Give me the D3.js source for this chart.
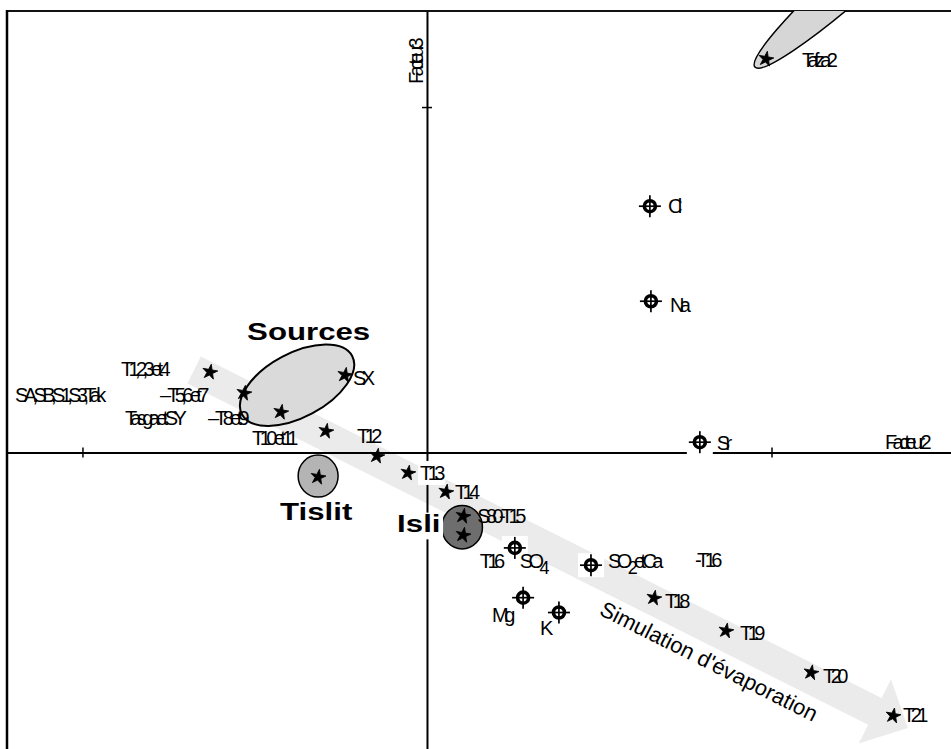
<!DOCTYPE html>
<html>
<head>
<meta charset="utf-8">
<script src="https://cdn.jsdelivr.net/npm/d3@7/dist/d3.min.js"></script>
<style>
  body { margin: 0; background: #fff; }
  svg { display: block; }
  text { font-family: "Liberation Sans", Arial, sans-serif; }
  .lbl { font-size: 20px; letter-spacing: -4.6px; }
  .big { font-size: 24px; font-weight: bold; }
</style>
</head>
<body>
<div id="chart"></div>
<script>
'use strict'

////////////////////////////////////
/////////////// data ///////////////
////////////////////////////////////

// echantillons : coordonnees sur facteur 2 (x) et facteur 3 (y)
const sampleNames = ['T1,2,3 et 4', 'T5,6 et 7', 'T8 et 9', 'SX', 'T10 et 11', 'T12', 'Tislit', 'T13', 'T14', 'S80', 'T15', 'T18', 'T19', 'T20', 'T21', 'Tafza2']
const sampleF2 = [-0.630, -0.531, -0.424, -0.238, -0.293, -0.145, -0.316, -0.055, 0.055, 0.105, 0.105, 0.659, 0.868, 1.115, 1.353, 0.984]
const sampleF3 = [0.233, 0.172, 0.117, 0.224, 0.062, -0.010, -0.071, -0.059, -0.114, -0.184, -0.239, -0.421, -0.516, -0.637, -0.762, 1.139]

// variables chimiques
const varNames = ['Cl', 'Na', 'Sr', 'SO4', 'SO2 et Ca', 'Mg', 'K']
const varF2 = [0.647, 0.650, 0.792, 0.255, 0.476, 0.279, 0.383]
const varF3 = [0.713, 0.438, 0.030, -0.276, -0.326, -0.420, -0.463]

// graduations des axes
const ticksF2 = [-1, 1]
const ticksF3 = [1]
const f2Domain = [-1.219, 1.521]
const f3Domain = [-0.858, 1.278]

// fleche "simulation d'evaporation" (queue -> pointe)
const arrowF2 = [-0.676, 1.396]
const arrowF3 = [0.239, -0.797]

////////////////////////////////////
/////////////// layout /////////////
////////////////////////////////////

// zones (centre en unites des facteurs)
const zones = [
    { name: 'Sources', f2: -0.377, f3: 0.195, rx: 0.181, ry: 0.093, rot: -28, fill: '#dadada', sw: 2, dx: -50, dy: -45 },
    { name: 'Tislit', f2: -0.316, f3: -0.068, rx: 0.058, ry: 0.061, rot: 0, fill: '#b4b4b4', sw: 1.5, dx: -38, dy: 44 },
    { name: 'Isli', f2: 0.102, f3: -0.216, rx: 0.059, ry: 0.063, rot: 0, fill: '#6e6e6e', sw: 1.5, dx: -65, dy: 5, bg: true },
    { name: '', f2: 1.255, f3: 1.385, rx: 0.406, ry: 0.055, rot: -41.7, fill: '#d6d6d6', sw: 1.5 }
]

// etiquettes : decalage en px par rapport au point
const labels = [
    { text: 'T1,2,3 et 4', of: 'T1,2,3 et 4', dx: -89, dy: 4 },
    { text: 'SA,SB,S1,S3,Tak', of: 'T5,6 et 7', dx: -229, dy: 9 },
    { text: '– T5,6 et 7', of: 'T5,6 et 7', dx: -84, dy: 9 },
    { text: 'Tasga et SY', of: 'T8 et 9', dx: -156, dy: 13 },
    { text: '– T8 et 9', of: 'T8 et 9', dx: -73, dy: 13 },
    { text: 'SX', of: 'SX', dx: 8, dy: 10 },
    { text: 'T10 et 11', of: 'T10 et 11', dx: -74, dy: 14 },
    { text: 'T12', of: 'T12', dx: -20, dy: -13 },
    { text: 'T13', of: 'T13', dx: 12, dy: 7, bg: true },
    { text: 'T14', of: 'T14', dx: 9, dy: 7 },
    { text: 'S80-T15', of: 'S80', dx: 14, dy: 7 },
    { text: 'T18', of: 'T18', dx: 11, dy: 10 },
    { text: 'T19', of: 'T19', dx: 14, dy: 9 },
    { text: 'T20', of: 'T20', dx: 12, dy: 10 },
    { text: 'T21', of: 'T21', dx: 10, dy: 6 },
    { text: 'Tafza2', of: 'Tafza2', dx: 36, dy: 8 },
    { text: 'Cl', of: 'Cl', dx: 18, dy: 7 },
    { text: 'Na', of: 'Na', dx: 19, dy: 11 },
    { text: 'Sr', of: 'Sr', dx: 17, dy: 8 },
    { text: 'SO4', of: 'SO4', dx: 5, dy: 20 },
    { text: 'T16', of: 'SO4', dx: -35, dy: 20 },
    { text: 'SO2 et Ca', of: 'SO2 et Ca', dx: 17, dy: 3 },
    { text: '-T16', of: 'SO2 et Ca', dx: 104, dy: 2 },
    { text: 'Mg', of: 'Mg', dx: -31, dy: 24 },
    { text: 'K', of: 'K', dx: -19, dy: 22 }
]

////////////////////////////////////
//////////// svg setup /////////////
////////////////////////////////////

const svgWidth = 951, svgHeight = 749
const margin = { left: 7, top: 11, right: 0, bottom: 0 }

const svg = d3.select('#chart')
    .append('svg')
    .attr('width', svgWidth)
    .attr('height', svgHeight)

const x = d3.scaleLinear().domain(f2Domain).range([margin.left, svgWidth - margin.right])
const y = d3.scaleLinear().domain(f3Domain).range([svgHeight - margin.bottom, margin.top])
const k = x(1) - x(0)   // px par unite

svg.append('clipPath').attr('id', 'plot')
    .append('rect')
    .attr('x', margin.left).attr('y', margin.top)
    .attr('width', svgWidth).attr('height', svgHeight)

const samples = sampleNames.map((n, i) => ({ name: n, f2: sampleF2[i], f3: sampleF3[i] }))
const vars = varNames.map((n, i) => ({ name: n, f2: varF2[i], f3: varF3[i] }))
const pos = {}
samples.concat(vars).forEach(d => pos[d.name] = [x(d.f2), y(d.f3)])

////////////////////////////////////
/////////////// arrow //////////////
////////////////////////////////////

const a0 = [x(arrowF2[0]), y(arrowF3[0])], a1 = [x(arrowF2[1]), y(arrowF3[1])]
const angle = Math.atan2(a1[1] - a0[1], a1[0] - a0[0]) * 180 / Math.PI
const len = Math.hypot(a1[0] - a0[0], a1[1] - a0[1])
const bw = 15, hw = 36, hl = 37

svg.append('path')
    .attr('d', d3.line()([[0, -bw], [len - hl, -bw], [len - hl, -hw], [len, 0], [len - hl, hw], [len - hl, bw], [0, bw]]) + 'Z')
    .attr('transform', `translate(${a0}) rotate(${angle})`)
    .attr('fill', '#ebebeb')

////////////////////////////////////
//////////// frame & axes //////////
////////////////////////////////////

svg.append('line')
    .attr('x1', margin.left).attr('x2', svgWidth)
    .attr('y1', margin.top).attr('y2', margin.top)
    .attr('stroke', '#111').attr('stroke-width', 2)
svg.append('line')
    .attr('x1', margin.left).attr('x2', margin.left)
    .attr('y1', margin.top - 1).attr('y2', svgHeight)
    .attr('stroke', '#000').attr('stroke-width', 2.5)

const xAxis = svg.append('g')
    .attr('transform', `translate(0,${y(0)})`)
    .call(d3.axisBottom(x).tickValues(ticksF2).tickSize(5).tickSizeOuter(0).tickFormat(''))
xAxis.selectAll('.tick line').attr('y1', -5).attr('stroke-width', 1.5)
xAxis.select('.domain').attr('stroke-width', 2)

const yAxis = svg.append('g')
    .attr('transform', `translate(${x(0)},0)`)
    .call(d3.axisLeft(y).tickValues(ticksF3).tickSize(5).tickSizeOuter(0).tickFormat(''))
yAxis.selectAll('.tick line').attr('x1', 5).attr('stroke-width', 1.5)
yAxis.select('.domain').attr('stroke-width', 2)

svg.append('text')
    .attr('class', 'lbl')
    .attr('x', 885).attr('y', y(0) - 4)
    .text('Facteur2')
svg.append('text')
    .attr('class', 'lbl')
    .attr('transform', `translate(${x(0) - 4},84) rotate(-90)`)
    .text('Facteur3')

////////////////////////////////////
/////////////// zones //////////////
////////////////////////////////////

const zoneG = svg.append('g').attr('clip-path', 'url(#plot)')
zones.forEach(z => {
    zoneG.append('ellipse')
        .attr('rx', z.rx * k).attr('ry', z.ry * k)
        .attr('transform', `translate(${x(z.f2)},${y(z.f3)}) rotate(${z.rot})`)
        .attr('fill', z.fill)
        .attr('stroke', '#000')
        .attr('stroke-width', z.sw)
})

////////////////////////////////////
////////////// markers /////////////
////////////////////////////////////

svg.selectAll('.star')
    .data(samples)
    .join('path')
    .attr('class', 'star')
    .attr('d', d3.symbol(d3.symbolStar, 70))
    .attr('transform', d => `translate(${x(d.f2)},${y(d.f3)}) rotate(10)`)
    .attr('fill', '#000')
    .attr('stroke', '#000')
    .attr('stroke-width', 0.8)

const vm = svg.selectAll('.var')
    .data(vars)
    .join('g')
    .attr('class', 'var')
    .attr('transform', d => `translate(${x(d.f2)},${y(d.f3)})`)
vm.append('rect').attr('x', -13).attr('y', -12).attr('width', 26).attr('height', 24).attr('fill', '#fff')
vm.append('circle').attr('r', 5.5).attr('fill', '#fff').attr('stroke', '#000').attr('stroke-width', 3.6)
vm.append('line').attr('x1', -11).attr('x2', 11).attr('stroke', '#000').attr('stroke-width', 1.7)
vm.append('line').attr('y1', -11).attr('y2', 11).attr('stroke', '#000').attr('stroke-width', 1.7)

////////////////////////////////////
////////////// labels //////////////
////////////////////////////////////

function writeText(sel, str) {
    const m = str.match(/^SO(\d)(.*)$/)
    if (!m) { sel.text(str); return }
    sel.append('tspan').text('SO')
    sel.append('tspan').attr('dy', 6).style('font-size', '18px').text(m[1])
    if (m[2]) sel.append('tspan').attr('dy', -6).text(m[2])
}

labels.forEach(l => {
    const p = pos[l.of]
    const g = svg.append('g').attr('transform', `translate(${p[0] + l.dx},${p[1] + l.dy})`)
    const t = g.append('text').attr('class', 'lbl')
    writeText(t, l.text)
    if (l.bg) {
        const b = t.node().getBBox()
        g.insert('rect', 'text')
            .attr('x', b.x - 2).attr('y', b.y - 1)
            .attr('width', b.width + 2).attr('height', b.height + 2)
            .attr('fill', '#fff')
    }
})

zones.filter(z => z.name).forEach(z => {
    const g = svg.append('g').attr('transform', `translate(${x(z.f2) + z.dx},${y(z.f3) + z.dy}) scale(1.3,1)`)
    const t = g.append('text').attr('class', 'big').text(z.name)
    if (z.bg) {
        const b = t.node().getBBox()
        g.insert('rect', 'text')
            .attr('x', b.x - 2).attr('y', b.y + 2)
            .attr('width', b.width + 4).attr('height', b.height)
            .attr('fill', '#fff')
    }
})

// texte le long de la fleche
const sx = x(0.497), sy = y(-0.468)
svg.append('text')
    .attr('transform', `translate(${sx},${sy}) rotate(${angle})`)
    .style('font-size', '22px')
    .text("Simulation d'évaporation")

</script>
</body>
</html>
